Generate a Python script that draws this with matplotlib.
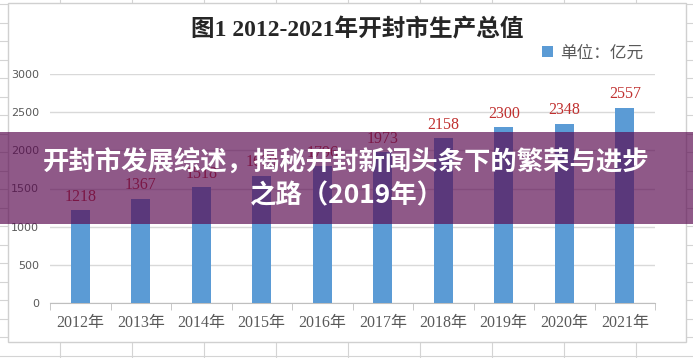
import matplotlib.pyplot as plt
from matplotlib.patches import Rectangle
from matplotlib.lines import Line2D
import numpy as np

years = ['2012年', '2013年', '2014年', '2015年', '2016年',
         '2017年', '2018年', '2019年', '2020年', '2021年']
gdp = [1218, 1367, 1518, 1670, 1796, 1973, 2158, 2300, 2348, 2557]
yticks = [0, 500, 1000, 1500, 2000, 2500, 3000]

title = '图1 2012-2021年开封市生产总值'
legend_label = '单位：亿元'
banner = '开封市发展综述，揭秘开封新闻头条下的繁荣与进步\n之路（2019年）'

serif = ['Liberation Serif', 'Noto Sans CJK SC']
W, H = 693, 358
fig = plt.figure(figsize=(W / 100, H / 100), dpi=100)
fig.patch.set_facecolor('white')

# 背景的表格线
for x in np.arange(60, W, 72):
    fig.add_artist(Line2D([x / W, x / W], [0, 1], color='#d4d4d4', lw=0.8, zorder=0))
for y in np.arange(4, H, 18.5):
    fig.add_artist(Line2D([0, 1], [1 - y / H, 1 - y / H], color='#d4d4d4', lw=0.8, zorder=0))

# 图表区白框
fig.add_artist(Rectangle((8 / W, 1 - 342 / H), 678 / W, 339 / H, facecolor='white',
                         edgecolor='#d0d0d0', lw=1, zorder=1))

ax = fig.add_axes([50 / W, 1 - 303 / H, 605 / W, 229 / H], zorder=2)
ax.set_facecolor('none')
x = np.arange(len(years))
bars = ax.bar(x, gdp, width=0.31, color='#5b9bd5', zorder=3, label=legend_label)
ax.set_ylim(0, 3000)
ax.set_xlim(-0.5, len(years) - 0.5)
ax.set_yticks(yticks)
ax.yaxis.grid(True, color='#d9d9d9', lw=1)
ax.set_axisbelow(True)
for s in ['top', 'right', 'left']:
    ax.spines[s].set_visible(False)
ax.spines['bottom'].set_color('#bfbfbf')
ax.tick_params(axis='y', length=0, labelsize=8, labelcolor='#595959', pad=8)
ax.set_xticks(x)
ax.set_xticklabels(years, family=serif, fontsize=11.5, color='#595959')
ax.set_xticks(np.arange(-0.5, len(years)), minor=True)
ax.tick_params(axis='x', which='major', length=0, pad=9)
ax.tick_params(axis='x', which='minor', length=5, color='#bfbfbf')

for xi, v in zip(x, gdp):
    ax.text(xi, v + 70, str(v), ha='center', va='bottom', family=serif,
            fontsize=11.5, color='#c0302f', zorder=4)

fig.text(357 / W, 1 - 30 / H, title, ha='center', va='center', family=serif,
         fontsize=17, color='#262626', fontweight='bold', zorder=5)
leg = ax.legend(loc='upper right', bbox_to_anchor=(1.005, 1.19), frameon=False,
                handlelength=0.7, handleheight=0.7, handletextpad=0.4,
                prop={'family': serif, 'size': 12})
for t in leg.get_texts():
    t.set_color('#595959')

# 紫色横幅
fig.add_artist(Rectangle((0, 1 - 224 / H), 1, 92 / H, facecolor='#5a0a50',
                         alpha=0.68, edgecolor='none', zorder=10))
fig.text(0.5, 1 - 179 / H, banner, ha='center', va='center', color='white',
         family=['Noto Sans CJK SC', 'DejaVu Sans'], fontweight='bold',
         fontsize=19, linespacing=1.3, zorder=11)

fig.savefig('out.png', dpi=100)
